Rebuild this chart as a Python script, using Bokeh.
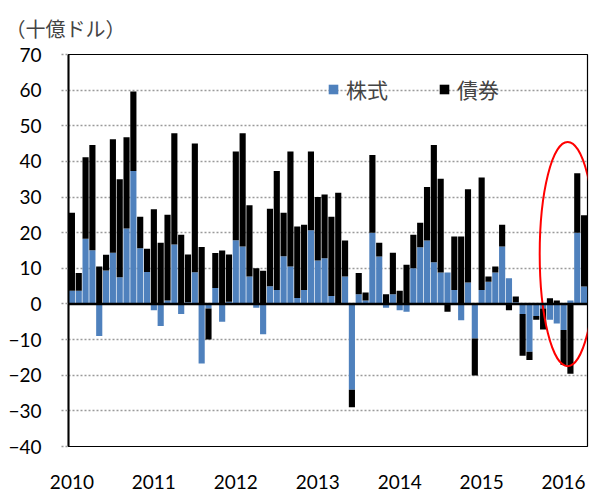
import numpy as np
from bokeh.plotting import figure
from bokeh.models import (FixedTicker, Span, Legend, LegendItem, ColumnDataSource)
from bokeh.embed import file_html
from bokeh.resources import INLINE

# ---- data (billion USD, monthly Jan 2010 - Apr 2016) ----
stocks = [3.7, 3.7, 18.3, 15.1, -9.0, 9.4, 14.4, 7.5, 21.2, 37.3, 15.6, 9.0,
          -1.8, -6.2, 1.0, 16.7, -2.8, 0.5, 8.9, -16.7, -1.3, 4.5, -5.0, 0.6,
          17.9, 16.1, 7.7, -1.1, -8.5, 5.0, 3.9, 13.4, 10.5, 1.7, 3.9, 20.7,
          12.2, 12.8, 2.2, 0.3, 7.7, -24.1, 2.7, 1.0, 20.0, 13.3, -1.1, 2.7,
          -1.8, -2.2, 10.0, 15.9, 17.8, 11.7, 8.8, 8.8, 3.9, -4.6, 6.0, -9.7,
          3.9, 6.2, 8.8, 16.1, 7.2, 0.5, -2.8, -13.4, -3.4, -1.3, -4.4, -5.5,
          -7.3, 1.0, 20.0, 4.9]
bonds = [21.9, 5.0, 22.9, 29.5, 10.5, 4.4, 31.8, 27.5, 25.6, 22.3, 8.9, 6.5,
         26.6, 17.2, 24.0, 31.2, 19.4, 13.4, 36.1, 16.0, -8.7, 9.8, 15.0, 13.3,
         24.9, 31.8, 20.0, 10.0, 9.3, 21.7, 33.4, 12.2, 32.3, 20.0, 18.3, 22.1,
         17.8, 17.9, 22.3, 30.9, 10.1, -4.9, 6.0, 2.2, 21.8, 3.9, 2.7, 11.7,
         3.7, 11.0, 9.4, 6.9, 15.0, 32.9, 26.3, -2.2, 15.0, 18.9, 26.2, -10.4,
         31.6, 1.5, 1.7, 6.1, -1.8, 1.6, -11.7, -2.3, -1.0, -5.9, 1.6, 1.0,
         -9.8, -19.6, 16.7, 20.0]
year_labels = ["2010", "2011", "2012", "2013", "2014", "2015", "2016"]
year_ticks = [0, 12, 24, 36, 48, 60, 72]
y_ticks = [-40, -30, -20, -10, 0, 10, 20, 30, 40, 50, 60, 70]
series_names = ["株式", "債券"]
unit_label = "（十億ドル）"

# highlight ellipse (annotation)
ell_x, ell_y, ell_w, ell_h = 72.6, 14.0, 8.2, 63.0

BLUE = "#4F81BD"
BLACK = "#000000"
NUM_FONT = "Lato"
JP_FONT = "Noto Sans CJK JP"

s = np.array(stocks)
b = np.array(bonds)
idx = np.arange(len(s))
s_bot = np.minimum(s, 0)
s_top = np.maximum(s, 0)
b_base = np.where(b >= 0, s_top, s_bot)
b_end = b_base + b
b_bot = np.minimum(b_base, b_end)
b_top = np.maximum(b_base, b_end)

src = ColumnDataSource(dict(x=idx, s_bot=s_bot, s_top=s_top, b_bot=b_bot, b_top=b_top))

p = figure(width=589, height=492,
           x_range=(-0.5, len(s) - 0.5), y_range=(-40, 70),
           output_backend="svg", toolbar_location=None,
           min_border_left=68, min_border_right=2, min_border_top=51, min_border_bottom=46)

p.background_fill_color = "white"
p.outline_line_color = "black"
p.outline_line_width = 1.2

# grid
p.xgrid.visible = False
p.ygrid.ticker = FixedTicker(ticks=y_ticks)
p.ygrid.grid_line_color = "#9a9a9a"
p.ygrid.grid_line_dash = "2 2"
p.ygrid.grid_line_width = 1.5

r1 = p.vbar(x="x", bottom="s_bot", top="s_top", width=0.9, source=src,
            fill_color=BLUE, line_color=None)
r2 = p.vbar(x="x", bottom="b_bot", top="b_top", width=0.9, source=src,
            fill_color=BLACK, line_color=None)

p.add_layout(Span(location=0, dimension="width", line_color="black", line_width=2.5))

p.ellipse(x=[ell_x], y=[ell_y], width=ell_w, height=ell_h,
          fill_color=None, line_color="red", line_width=2)

# y axis
ya = p.yaxis[0]
ya.ticker = FixedTicker(ticks=y_ticks)
ya.axis_line_color = "black"
ya.axis_line_width = 2
ya.major_tick_out = 7
ya.major_tick_in = 0
ya.major_tick_line_color = "#9a9a9a"
ya.major_tick_line_dash = "2 2"
ya.major_tick_line_width = 1.5
ya.minor_tick_line_color = None
ya.major_label_standoff = 20
ya.major_label_text_font = NUM_FONT
ya.major_label_text_font_size = "19px"
ya.major_label_text_color = "black"

# x axis
xa = p.xaxis[0]
xa.ticker = FixedTicker(ticks=year_ticks)
xa.major_label_overrides = {t: l for t, l in zip(year_ticks, year_labels)}
xa.axis_line_color = None
xa.major_tick_line_color = None
xa.minor_tick_line_color = None
xa.major_label_standoff = 22
xa.major_label_text_font = NUM_FONT
xa.major_label_text_font_size = "19px"
xa.major_label_text_color = "black"

# title (unit)
p.title.text = unit_label
p.title.align = "left"
p.title.offset = -63
p.title.text_font = JP_FONT
p.title.text_font_size = "20px"
p.title.text_font_style = "normal"
p.title.standoff = 23

legend = Legend(items=[LegendItem(label=series_names[0], renderers=[r1]),
                       LegendItem(label=series_names[1], renderers=[r2])],
                orientation="horizontal", location=(259, 342),
                background_fill_alpha=0, border_line_alpha=0,
                glyph_width=12, glyph_height=12, label_standoff=7,
                spacing=50, padding=0, margin=0,
                label_text_font=JP_FONT, label_text_font_size="21px")
p.add_layout(legend)

open("out.html", "w").write(file_html(p, INLINE))
